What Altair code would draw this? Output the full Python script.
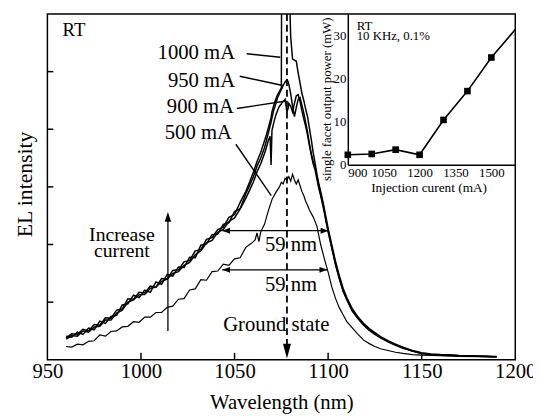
import altair as alt
import pandas as pd

# ---------------- data ----------------
wl_up = [960, 963, 966, 969, 972, 975, 978, 981, 984, 987, 990, 993, 996, 999,
         1002, 1005, 1008, 1011, 1014, 1017, 1020, 1023, 1026, 1029, 1032, 1035,
         1038, 1041, 1044, 1047, 1050, 1053, 1056, 1058, 1060, 1062, 1064, 1066,
         1067, 1068, 1069, 1069.5, 1070, 1071, 1072, 1073, 1074, 1075, 1075.3,
         1076, 1077, 1078, 1078.6, 1079, 1080, 1081, 1082, 1083, 1084, 1085,
         1086, 1087, 1088, 1089, 1090, 1091, 1092, 1093, 1094, 1095, 1096, 1097,
         1098, 1099, 1100, 1102, 1104, 1106, 1108, 1110, 1113, 1116, 1119, 1122,
         1125, 1128, 1132, 1136, 1140, 1145, 1150, 1155, 1160, 1165, 1170, 1175,
         1180, 1185, 1190]

el_1000 = [0.38, 0.45, 0.44, 0.53, 0.50, 0.61, 0.60, 0.73, 0.72, 0.86, 0.88, 1.06,
           1.05, 1.17, 1.16, 1.28, 1.26, 1.41, 1.40, 1.55, 1.56, 1.70, 1.72, 1.89,
           1.91, 2.09, 2.12, 2.26, 2.30, 2.47, 2.52, 2.73, 2.92, 3.08, 3.25, 3.44,
           3.60, 3.80, 3.90, 4.02, 4.14, 4.20, 4.30, 4.42, 4.52, 4.60, 4.66, 4.72,
           8.0, 8.0, 8.0, 8.0, 8.0, 6.8, 5.6, 5.22, 5.20, 5.18, 4.98, 4.80, 4.62,
           4.50, 4.35, 4.22, 4.02, 3.82, 3.60, 3.42, 3.22, 3.06, 2.92, 2.78, 2.62,
           2.45, 2.28, 1.99, 1.70, 1.46, 1.24, 1.08, 0.88, 0.74, 0.63, 0.54, 0.47,
           0.40, 0.33, 0.27, 0.22, 0.16, 0.12, 0.10, 0.09, 0.085, 0.075, 0.07,
           0.065, 0.06, 0.055]

el_950 = [0.41, 0.39, 0.48, 0.44, 0.55, 0.52, 0.67, 0.63, 0.75, 0.77, 0.95, 0.97,
          1.12, 1.08, 1.21, 1.17, 1.35, 1.31, 1.48, 1.45, 1.61, 1.60, 1.78, 1.77,
          1.99, 2.01, 2.17, 2.18, 2.35, 2.38, 2.57, 2.62, 2.88, 3.02, 3.17, 3.36,
          3.50, 3.68, 3.80, 3.93, 4.06, 4.12, 4.20, 4.34, 4.44, 4.55, 4.62, 4.69,
          4.71, 4.76, 4.82, 4.86, 4.83, 4.78, 4.62, 4.40, 4.22, 4.38, 4.52, 4.55,
          4.42, 4.28, 4.12, 3.95, 3.75, 3.58, 3.45, 3.35, 3.18, 3.02, 2.88, 2.74,
          2.58, 2.40, 2.24, 1.95, 1.66, 1.42, 1.20, 1.05, 0.85, 0.72, 0.61, 0.52,
          0.45, 0.39, 0.32, 0.26, 0.21, 0.15, 0.11, 0.09, 0.085, 0.08, 0.07,
          0.065, 0.06, 0.055, 0.05]

el_900 = [0.36, 0.42, 0.41, 0.50, 0.48, 0.57, 0.58, 0.69, 0.69, 0.81, 0.86, 1.00,
          1.04, 1.13, 1.13, 1.24, 1.26, 1.36, 1.40, 1.50, 1.53, 1.64, 1.69, 1.82,
          1.89, 2.03, 2.07, 2.21, 2.26, 2.40, 2.46, 2.62, 2.80, 2.94, 3.08, 3.26,
          3.40, 3.58, 3.68, 3.80, 3.88, 3.38, 3.98, 4.12, 4.24, 4.33, 4.40, 4.44,
          4.46, 4.48, 4.52, 4.30, 4.36, 4.45, 4.40, 4.30, 4.45, 4.58, 4.60, 4.48,
          4.32, 4.18, 4.05, 3.90, 3.72, 3.55, 3.40, 3.30, 3.14, 2.98, 2.85, 2.70,
          2.55, 2.38, 2.22, 1.93, 1.64, 1.40, 1.19, 1.04, 0.84, 0.71, 0.60, 0.51,
          0.44, 0.38, 0.31, 0.25, 0.20, 0.15, 0.11, 0.09, 0.08, 0.075, 0.07,
          0.065, 0.06, 0.055, 0.05]

wl_500 = [960, 963, 966, 969, 972, 975, 978, 981, 984, 987, 990, 993, 996, 999,
          1002, 1005, 1008, 1011, 1014, 1017, 1020, 1023, 1026, 1029, 1032, 1035,
          1038, 1041, 1044, 1047, 1050, 1053, 1056, 1059, 1061, 1062, 1063, 1064,
          1066, 1068, 1070, 1072, 1074, 1075, 1076, 1077, 1078, 1079, 1080, 1081,
          1082, 1083, 1084, 1085, 1086, 1087, 1088, 1089, 1090, 1092, 1094, 1096,
          1098, 1100, 1102, 1104, 1106, 1108, 1110, 1113, 1116, 1119, 1122, 1125,
          1128, 1132, 1136, 1140, 1145, 1150, 1160, 1170, 1180, 1190]

el_500 = [0.23, 0.22, 0.27, 0.26, 0.32, 0.33, 0.43, 0.41, 0.49, 0.50,
          0.57, 0.58, 0.66, 0.65, 0.74, 0.74, 0.82, 0.82, 0.91, 0.93,
          1.05, 1.06, 1.21, 1.23, 1.39, 1.38, 1.53, 1.54, 1.66, 1.64,
          1.75, 1.77, 1.95, 2.02, 2.08, 2.20, 2.05, 2.22, 2.35, 2.58,
          2.78, 2.90, 3.00, 3.08, 3.05, 3.15, 3.12, 3.18, 3.10, 3.22,
          3.12, 3.05, 3.12, 3.02, 2.92, 2.85, 2.75, 2.68, 2.60, 2.48,
          2.32, 2.00, 1.75, 1.52, 1.26, 1.06, 0.90, 0.78, 0.66, 0.55,
          0.44, 0.34, 0.28, 0.23, 0.19, 0.16, 0.13, 0.11, 0.09, 0.08,
          0.07, 0.06, 0.055, 0.05]

# inset: output power vs injection current
inset_current = [900, 1000, 1100, 1200, 1300, 1400, 1500]
inset_power = [2.3, 2.5, 3.5, 2.3, 10.4, 17.1, 24.9]
inset_line_current = [900, 1000, 1100, 1200, 1300, 1400, 1500, 1600]
inset_line_power = [2.3, 2.5, 3.5, 2.3, 10.4, 17.1, 24.9, 31.4]

# axis ticks / labels
x_tick_values = [950, 1000, 1050, 1100, 1150, 1200]
x_inner_ticks = [1000, 1050, 1100, 1150]
y_inner_ticks = [1, 2, 3, 4, 5]
inset_x_values = [900, 1050, 1200, 1350, 1500]
inset_y_values = [0, 10, 20, 30]

# annotations
ground_state_wl = 1078
fwhm_start = [1043.4, 1043.4]
fwhm_end = [1100.2, 1099.6]
fwhm_level = [2.24, 1.56]
increase_wl = 1014.4
increase_from, increase_to = 0.5, 2.564

label_texts = ["1000 mA", "950 mA", "900 mA", "500 mA"]
label_right_wl = [1050.3, 1050.3, 1049.7, 1048.6]
label_v = [5.214, 4.735, 4.274, 3.829]
leader_wl = [1056.5, 1052.8, 1051.2, 1050.7]
leader_v = [5.31, 4.92, 4.36, 3.74]
leader_wl2 = [1074.4, 1075.8, 1077.5, 1069.6]
leader_v2 = [5.25, 4.76, 4.49, 2.85]

stack_text = "Increase\ncurrent"
stack_wl, stack_v = 989.8, 2.055

center_texts = ["59 nm", "59 nm", "Ground state"]
center_wl = [1080.2, 1080.2, 1072.3]
center_v = [1.88, 1.197, 0.496]

rt_text, rt_wl, rt_v = "RT", 958.1, 5.62
inset_text = "RT\n10 KHz, 0.1%"
inset_text_I, inset_text_P = 937, 31.4

# ---------------- chart ----------------
FONT = "Liberation Serif"
BLACK = "black"

xs = alt.Scale(domain=[950, 1200], nice=False, zero=False)
ys = alt.Scale(domain=[0, 6], nice=False, zero=False)

x_axis = alt.Axis(title="Wavelength (nm)", values=x_tick_values, format="d",
                  labelFont=FONT, labelFontSize=21, labelColor=BLACK,
                  labelPadding=1, labelFlush=False, labelOverlap=False,
                  ticks=False, tickSize=0, domain=False, grid=False,
                  titleFont=FONT, titleFontSize=21, titleFontWeight="normal",
                  titleColor=BLACK, titleBaseline="alphabetic",
                  titleX=237.5, titleY=49)
y_axis = alt.Axis(title="EL intensity", labels=False, ticks=False, tickSize=0,
                  domain=False, grid=False, titleFont=FONT, titleFontSize=22,
                  titleFontWeight="normal", titleColor=BLACK,
                  titleBaseline="alphabetic", titleAngle=270,
                  titleX=-16, titleY=172.5, titleAlign="center")


def mx(f="wl"):
    return alt.X(f"{f}:Q", scale=xs, axis=x_axis)


def my(f="v"):
    return alt.Y(f"{f}:Q", scale=ys, axis=y_axis)


up_df = pd.concat([
    pd.DataFrame({"wl": wl_up, "v": el_1000, "series": "1000 mA"}),
    pd.DataFrame({"wl": wl_up, "v": el_950, "series": "950 mA"}),
    pd.DataFrame({"wl": wl_up, "v": el_900, "series": "900 mA"}),
])
low_df = pd.DataFrame({"wl": wl_500, "v": el_500, "series": "500 mA"})

upper = alt.Chart(up_df).mark_line(color=BLACK, strokeWidth=1.5, clip=True).encode(
    x=mx(), y=my(), detail="series:N")
lower = alt.Chart(low_df).mark_line(color=BLACK, strokeWidth=1.2, clip=True).encode(
    x=mx(), y=my())

# dashed ground-state line with arrow head
gs_df = pd.DataFrame({"wl": [ground_state_wl], "v": [6.0], "v2": [0.25]})
gs_rule = alt.Chart(gs_df).mark_rule(color=BLACK, strokeWidth=1.8, strokeDash=[7, 4]).encode(
    x=mx(), y=my(), y2="v2:Q")
gs_head = alt.Chart(pd.DataFrame({"wl": [ground_state_wl], "v": [0.02]})).mark_point(
    shape="M0,0L-0.27,-1L0.27,-1Z", size=900, filled=True, color=BLACK, opacity=1,
    strokeWidth=0).encode(x=mx(), y=my())

# FWHM double arrows
fw_df = pd.DataFrame({"wl": fwhm_start, "wl2": fwhm_end, "v": fwhm_level})
fw_rule = alt.Chart(fw_df).mark_rule(color=BLACK, strokeWidth=1.3).encode(
    x=mx(), x2="wl2:Q", y=my())
fw_left = alt.Chart(pd.DataFrame({"wl": fwhm_start, "v": fwhm_level})).mark_point(
    shape="M0,0L1,-0.375L1,0.375Z", size=256, filled=True, color=BLACK, opacity=1,
    strokeWidth=0).encode(x=mx(), y=my())
fw_right = alt.Chart(pd.DataFrame({"wl": fwhm_end, "v": fwhm_level})).mark_point(
    shape="M0,0L-1,-0.375L-1,0.375Z", size=256, filled=True, color=BLACK, opacity=1,
    strokeWidth=0).encode(x=mx(), y=my())

# increase-current arrow
inc_rule = alt.Chart(pd.DataFrame({"wl": [increase_wl], "v": [increase_from], "v2": [increase_to - 0.1]})).mark_rule(
    color=BLACK, strokeWidth=1.3).encode(x=mx(), y=my(), y2="v2:Q")
inc_head = alt.Chart(pd.DataFrame({"wl": [increase_wl], "v": [increase_to]})).mark_point(
    shape="M0,0L-0.33,1L0.33,1Z", size=400, filled=True, color=BLACK, opacity=1,
    strokeWidth=0).encode(x=mx(), y=my())

# leader lines
lead_df = pd.DataFrame({"wl": leader_wl, "v": leader_v, "wl2": leader_wl2, "v2": leader_v2})
leaders = alt.Chart(lead_df).mark_rule(color=BLACK, strokeWidth=1.4).encode(
    x=mx(), y=my(), x2="wl2:Q", y2="v2:Q")

# texts
lab_df = pd.DataFrame({"wl": label_right_wl, "v": label_v, "t": label_texts})
labels = alt.Chart(lab_df).mark_text(font=FONT, fontSize=21, color=BLACK, align="right",
                                     baseline="alphabetic").encode(x=mx(), y=my(), text="t:N")
stack = alt.Chart(pd.DataFrame({"wl": [stack_wl], "v": [stack_v], "t": [stack_text]})).mark_text(
    font=FONT, fontSize=20, color=BLACK, align="center", baseline="alphabetic",
    lineBreak="\n", lineHeight=15.5).encode(x=mx(), y=my(), text="t:N")
cen_df = pd.DataFrame({"wl": center_wl, "v": center_v, "t": center_texts})
centers = alt.Chart(cen_df).mark_text(font=FONT, fontSize=21, color=BLACK, align="center",
                                      baseline="alphabetic").encode(x=mx(), y=my(), text="t:N")
rt = alt.Chart(pd.DataFrame({"wl": [rt_wl], "v": [rt_v], "t": [rt_text]})).mark_text(
    font=FONT, fontSize=19, color=BLACK, align="left", baseline="alphabetic").encode(
    x=mx(), y=my(), text="t:N")

# inward tick marks
xt = alt.Chart(pd.DataFrame({"wl": x_inner_ticks, "v": [0] * len(x_inner_ticks)})).mark_tick(
    orient="vertical", size=7, thickness=1.5, color=BLACK, yOffset=-3.5, opacity=1).encode(x=mx(), y=my())
yt = alt.Chart(pd.DataFrame({"wl": [950] * len(y_inner_ticks), "v": y_inner_ticks})).mark_tick(
    orient="horizontal", size=6, thickness=1.5, color=BLACK, xOffset=3, opacity=1).encode(x=mx(), y=my())

main = alt.layer(upper, lower, gs_rule, gs_head, fw_rule, fw_left, fw_right,
                 inc_rule, inc_head, leaders, labels, stack, centers, rt, xt, yt)

# ---------------- inset ----------------
ixs = alt.Scale(domain=[900, 1600], range=[305, 475], nice=False, zero=False)
iys = alt.Scale(domain=[0, 35], range=[153, 0], nice=False, zero=False)
ix_axis = alt.Axis(orient="bottom", offset=-198, values=inset_x_values, format="d",
                   labelFont=FONT, labelFontSize=13, labelColor=BLACK, labelPadding=2,
                   labelFlush=True, labelOverlap=False, ticks=False, tickSize=0,
                   grid=False, domainColor=BLACK, domainWidth=1.5,
                   title="Injection curent (mA)", titleFont=FONT, titleFontSize=13.5,
                   titleFontWeight="normal", titleColor=BLACK,
                   titleBaseline="alphabetic", titleX=387, titleY=27)
iy_axis = alt.Axis(orient="left", offset=-305, values=inset_y_values, format="d",
                   labelFont=FONT, labelFontSize=13, labelColor=BLACK, labelPadding=2,
                   labelFlush=False, labelOverlap=False, ticks=False, tickSize=0,
                   grid=False, domainColor=BLACK, domainWidth=1.5,
                   title="single facet output power (mW)", titleFont=FONT,
                   titleFontSize=13, titleFontWeight="normal", titleColor=BLACK,
                   titleBaseline="alphabetic", titleAngle=270, titleAlign="center",
                   titleX=-18, titleY=86)


def ix():
    return alt.X("I:Q", scale=ixs, axis=ix_axis)


def iy():
    return alt.Y("P:Q", scale=iys, axis=iy_axis)


in_line = alt.Chart(pd.DataFrame({"I": inset_line_current, "P": inset_line_power})).mark_line(
    color=BLACK, strokeWidth=1.6, clip=True).encode(x=ix(), y=iy())
in_pts = alt.Chart(pd.DataFrame({"I": inset_current, "P": inset_power})).mark_point(
    shape="square", size=45, filled=True, color=BLACK, opacity=1).encode(x=ix(), y=iy())
in_txt = alt.Chart(pd.DataFrame({"I": [inset_text_I], "P": [inset_text_P], "t": [inset_text]})).mark_text(
    font=FONT, fontSize=13, color=BLACK, align="left", baseline="alphabetic",
    lineBreak="\n", lineHeight=11).encode(x=ix(), y=iy(), text="t:N")

inset = alt.layer(in_line, in_pts, in_txt)

chart = alt.layer(main, inset).resolve_scale(x="independent", y="independent").properties(
    width=475, height=351, autosize="none",
    padding={"left": 40, "top": 3, "right": 18, "bottom": 54},
    background="white",
).configure_view(stroke=BLACK, strokeWidth=1.5)

chart.save("out.html", embed_options={"renderer": "svg", "actions": False})
